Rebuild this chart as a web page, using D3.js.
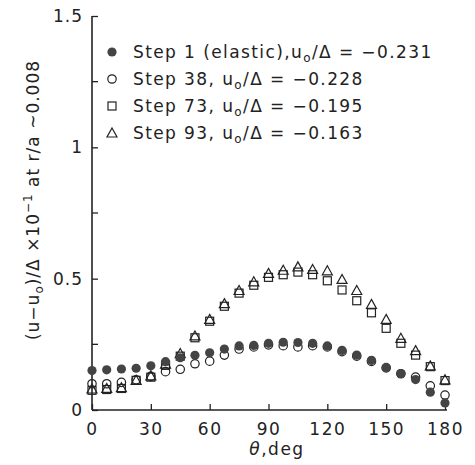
<!DOCTYPE html>
<meta charset="utf-8">
<style>
  body { margin: 0; background: #fff; }
  text { font-family: "DejaVu Sans", sans-serif; fill: #222; }
</style>
<body>
<script src="https://cdn.jsdelivr.net/npm/d3@7/dist/d3.min.js"></script>
<script>

    var width = 475,
        height = 465;

    // angle, deg (every 7.5 deg)
    var theta = [0, 7.5, 15, 22.5, 30, 37.5, 45, 52.5, 60, 67.5, 75, 82.5, 90,
                 97.5, 105, 112.5, 120, 127.5, 135, 142.5, 150, 157.5, 165, 172.5, 180];

    var step1 = [0.150, 0.153, 0.156, 0.159, 0.168, 0.184, 0.199, 0.208, 0.218, 0.232, 0.244, 0.246, 0.254,
                 0.258, 0.257, 0.254, 0.244, 0.227, 0.209, 0.189, 0.162, 0.139, 0.116, 0.068, 0.027];
    var step38 = [0.100, 0.100, 0.105, 0.115, 0.128, 0.146, 0.155, 0.176, 0.186, 0.209, 0.232, 0.240, 0.248,
                  0.245, 0.240, 0.245, 0.240, 0.222, 0.205, 0.185, 0.160, 0.138, 0.125, 0.092, 0.057];
    var step73 = [0.075, 0.078, 0.082, 0.113, 0.125, 0.170, 0.205, 0.275, 0.338, 0.395, 0.445, 0.475, 0.505,
                  0.515, 0.525, 0.515, 0.492, 0.457, 0.416, 0.370, 0.311, 0.254, 0.209, 0.165, 0.112];
    var step93 = [0.080, 0.082, 0.085, 0.113, 0.130, 0.175, 0.215, 0.282, 0.345, 0.405, 0.455, 0.488, 0.520,
                  0.532, 0.545, 0.535, 0.530, 0.497, 0.455, 0.402, 0.345, 0.273, 0.226, 0.168, 0.115];

    var xTicks = [0, 30, 60, 90, 120, 150, 180];
    var yTicks = [0, 0.5, 1, 1.5];
    var yMinor = [0.25, 0.75, 1.25];

    var legendNames = ["Step 1 (elastic),", "Step 38, ", "Step 73, ", "Step 93, "];
    var legendU0 = ["-0.231", "-0.228", "-0.195", "-0.163"];
    var legendSym = ["dot", "circle", "square", "triangle"];

    var x = d3.scaleLinear().domain([0, 180]).range([92, 445]);
    var y = d3.scaleLinear().domain([0, 1.5]).range([410, 16]);

    var svg = d3.select("body").append("svg")
            .attr("width", width)
            .attr("height", height);

    var ink = "#222";

    // axes
    var xAxis = d3.axisBottom(x).tickValues(xTicks).tickSize(-6).tickPadding(10).tickFormat(d3.format("d"));
    var gx = svg.append("g").attr("transform", "translate(0," + y(0) + ")").call(xAxis);
    gx.select(".domain").attr("d", "M" + x(0) + ",0H" + (x(180) + 2)).attr("stroke", ink).attr("stroke-width", 1.6);
    gx.selectAll(".tick line").attr("stroke", ink).attr("stroke-width", 1.3);
    gx.selectAll(".tick text").attr("font-size", 17).attr("font-family", "DejaVu Sans").attr("fill", ink)
        .attr("letter-spacing", 1.5).attr("dy", "0.9em");

    var yAxis = d3.axisLeft(y).tickValues(yTicks).tickSize(-6).tickPadding(9)
            .tickFormat(function(d) { return String(d); });
    var gy = svg.append("g").attr("transform", "translate(" + x(0) + ",0)").call(yAxis);
    gy.select(".domain").attr("d", "M0," + y(1.5) + "V" + y(0)).attr("stroke", ink).attr("stroke-width", 1.6);
    gy.selectAll(".tick line").attr("stroke", ink).attr("stroke-width", 1.3);
    gy.selectAll(".tick text").attr("font-size", 17).attr("font-family", "DejaVu Sans").attr("fill", ink)
        .attr("letter-spacing", 1);

    gy.selectAll(".minor").data(yMinor).enter().append("line")
        .attr("x1", 0).attr("x2", 6)
        .attr("y1", function(d) { return y(d); }).attr("y2", function(d) { return y(d); })
        .attr("stroke", ink).attr("stroke-width", 1.3);

    // markers
    function drawSymbol(g, kind, cx, cy) {
        if (kind === "dot") {
            g.append("circle").attr("cx", cx).attr("cy", cy).attr("r", 4.6).attr("fill", "#444");
        } else if (kind === "circle") {
            g.append("circle").attr("cx", cx).attr("cy", cy).attr("r", 4.2)
                .attr("fill", "none").attr("stroke", ink).attr("stroke-width", 1.2);
        } else if (kind === "square") {
            g.append("rect").attr("x", cx - 4).attr("y", cy - 4).attr("width", 8).attr("height", 8)
                .attr("fill", "none").attr("stroke", ink).attr("stroke-width", 1.2);
        } else {
            g.append("path").attr("d", "M" + cx + "," + (cy - 5) + "L" + (cx + 5) + "," + (cy + 4) + "L" + (cx - 5) + "," + (cy + 4) + "Z")
                .attr("fill", "none").attr("stroke", ink).attr("stroke-width", 1.2);
        }
    }

    var series = [["triangle", step93], ["square", step73], ["circle", step38], ["dot", step1]];
    var marks = svg.append("g");
    series.forEach(function(s) {
        theta.forEach(function(t, i) {
            drawSymbol(marks, s[0], x(t), y(s[1][i]));
        });
    });

    // legend
    var legend = svg.append("g");
    legendNames.forEach(function(name, i) {
        var ly = 52 + i * 27;
        drawSymbol(legend, legendSym[i], 112, ly);
        var t = legend.append("text").attr("x", 133).attr("y", ly + 6)
            .attr("font-size", 17).attr("letter-spacing", 1.4);
        t.append("tspan").text(name + "u");
        t.append("tspan").attr("font-size", 12).attr("dy", 4).text("o");
        t.append("tspan").attr("dy", -4).text("/\u0394 = " + legendU0[i].replace("-", "\u2212"));
    });

    // axis titles
    var xl = svg.append("text").attr("x", 277).attr("y", 455).attr("text-anchor", "middle")
        .attr("font-size", 17).attr("letter-spacing", 1.5);
    xl.append("tspan").attr("font-style", "italic").text("\u03b8");
    xl.append("tspan").text(",deg");

    var yl = svg.append("text").attr("transform", "translate(39,200) rotate(-90)")
        .attr("text-anchor", "middle").attr("font-size", 17).attr("letter-spacing", 1);
    yl.append("tspan").text("(u\u2212u");
    yl.append("tspan").attr("font-size", 12).attr("dy", 4).text("o");
    yl.append("tspan").attr("dy", -4).text(")/\u0394 \u00d710");
    yl.append("tspan").attr("font-size", 12).attr("dy", -7).text("\u22121");
    yl.append("tspan").attr("dy", 7).text(" at r/a ~0.008");

</script>
